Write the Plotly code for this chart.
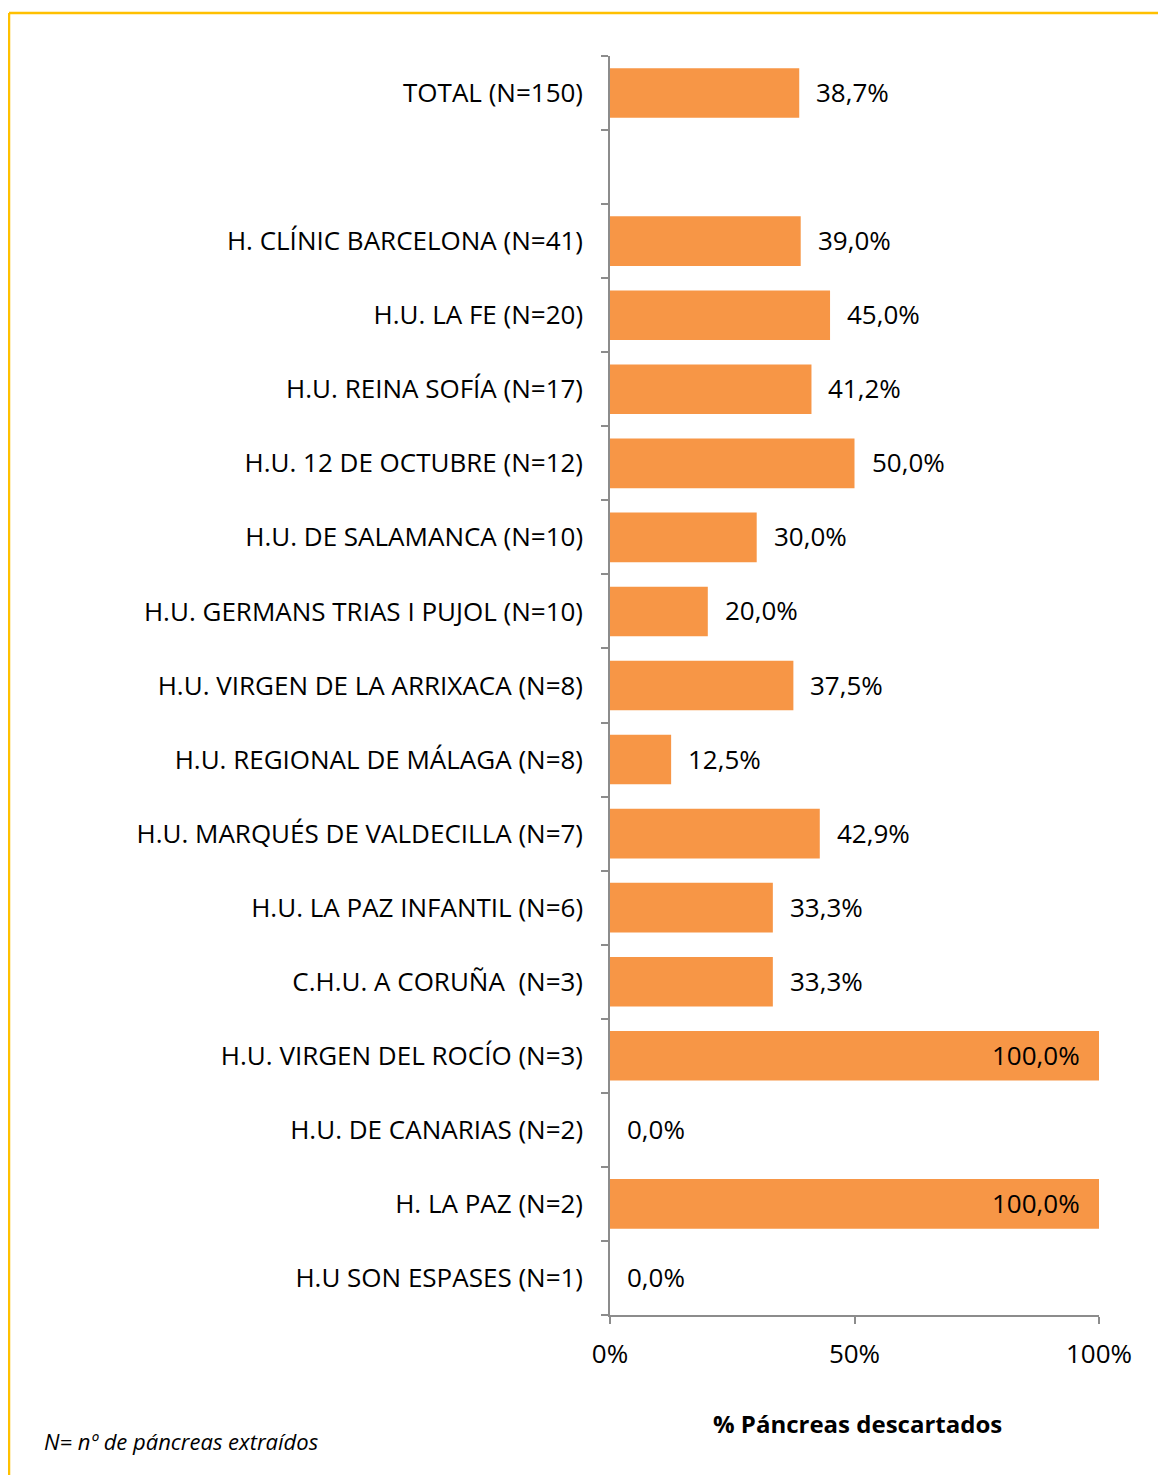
import plotly.graph_objects as go

categories = [
    "TOTAL (N=150)",
    " ",
    "H. CLÍNIC BARCELONA (N=41)",
    "H.U. LA FE (N=20)",
    "H.U. REINA SOFÍA (N=17)",
    "H.U. 12 DE OCTUBRE (N=12)",
    "H.U. DE SALAMANCA (N=10)",
    "H.U. GERMANS TRIAS I PUJOL (N=10)",
    "H.U. VIRGEN DE LA ARRIXACA (N=8)",
    "H.U. REGIONAL DE MÁLAGA (N=8)",
    "H.U. MARQUÉS DE VALDECILLA (N=7)",
    "H.U. LA PAZ INFANTIL (N=6)",
    "C.H.U. A CORUÑA  (N=3)",
    "H.U. VIRGEN DEL ROCÍO (N=3)",
    "H.U. DE CANARIAS (N=2)",
    "H. LA PAZ (N=2)",
    "H.U SON ESPASES (N=1)",
]
values = [38.7, None, 39.0, 45.0, 41.2, 50.0, 30.0, 20.0, 37.5, 12.5, 42.9,
          33.3, 33.3, 100.0, 0.0, 100.0, 0.0]

ORANGE = "#F79646"
GOLD = "#FFC000"
GRAY = "#8C8C8C"
FONT = "Open Sans"
FS = 26

xs, ys = [], []
for c, v in zip(categories, values):
    if v is None:
        continue
    xs.append(v / 100)
    ys.append(c)

fig = go.Figure(go.Bar(
    x=xs, y=ys, orientation="h",
    marker=dict(color=ORANGE, line=dict(width=0)),
    width=0.67,
    hoverinfo="x+y",
))

# page offset (body margin) of 8px
OFF = 8
W, H = 1166 - OFF, 1475 - OFF
L, R, T, B = 610, 1099, 56, 1315
pw, ph = R - L, B - T

def px_x(x):
    return (x - L) / pw

def px_y(y):
    return (B - y) / ph

annotations = []
for x, y in zip(xs, ys):
    lbl = f"{x * 100:.1f}".replace(".", ",") + "%"
    inside = x >= 1
    annotations.append(dict(
        x=x, y=y, xref="x", yref="y", text=lbl, showarrow=False,
        xanchor="right" if inside else "left",
        xshift=-17 if inside else 15, yshift=1,
        font=dict(family=FONT, size=FS, color="black"),
    ))

annotations.append(dict(
    text="<b>% Páncreas descartados</b>",
    xref="paper", yref="paper", x=px_x(857), y=px_y(1423),
    xanchor="center", yanchor="middle", showarrow=False,
    font=dict(family=FONT, size=24, color="black"),
))
annotations.append(dict(
    text="<i>N= nº de páncreas extraídos</i>",
    xref="paper", yref="paper", x=px_x(42), y=px_y(1441),
    xanchor="left", yanchor="middle", showarrow=False,
    font=dict(family=FONT, size=22, color="black"),
))

fig.update_layout(
    width=W, height=H,
    margin=dict(l=L - OFF, r=W - (R - OFF), t=T - OFF, b=H - (B - OFF), pad=0),
    paper_bgcolor="white", plot_bgcolor="white",
    showlegend=False,
    font=dict(family=FONT, size=FS, color="black"),
    xaxis=dict(
        range=[0, 1], tickvals=[0, 0.5, 1], ticktext=["0%", "50%", "100%"],
        showgrid=False, zeroline=False,
        showline=True, linecolor=GRAY, linewidth=1.5,
        ticks="outside", ticklen=7, tickcolor=GRAY, tickwidth=1.5,
        ticklabelstandoff=8,
        tickfont=dict(family=FONT, size=FS, color="black"),
    ),
    yaxis=dict(
        type="category",
        categoryorder="array", categoryarray=categories[::-1],
        range=[-0.5, len(categories) - 0.5],
        showgrid=False, zeroline=False,
        showline=True, linecolor=GRAY, linewidth=1.5,
        ticks="outside", ticklen=7, tickcolor=GRAY, tickwidth=1.5,
        tickson="boundaries",
        ticklabelstandoff=20,
        tickfont=dict(family=FONT, size=FS, color="black"),
    ),
    annotations=annotations,
    shapes=[
        dict(type="line", xref="paper", yref="paper",
             x0=px_x(9), x1=px_x(1170), y0=px_y(13), y1=px_y(13),
             line=dict(color=GOLD, width=2.5)),
        dict(type="line", xref="paper", yref="paper",
             x0=px_x(9), x1=px_x(9), y0=px_y(13), y1=px_y(1480),
             line=dict(color=GOLD, width=2.5)),
    ],
)

fig.write_html("out.html")
